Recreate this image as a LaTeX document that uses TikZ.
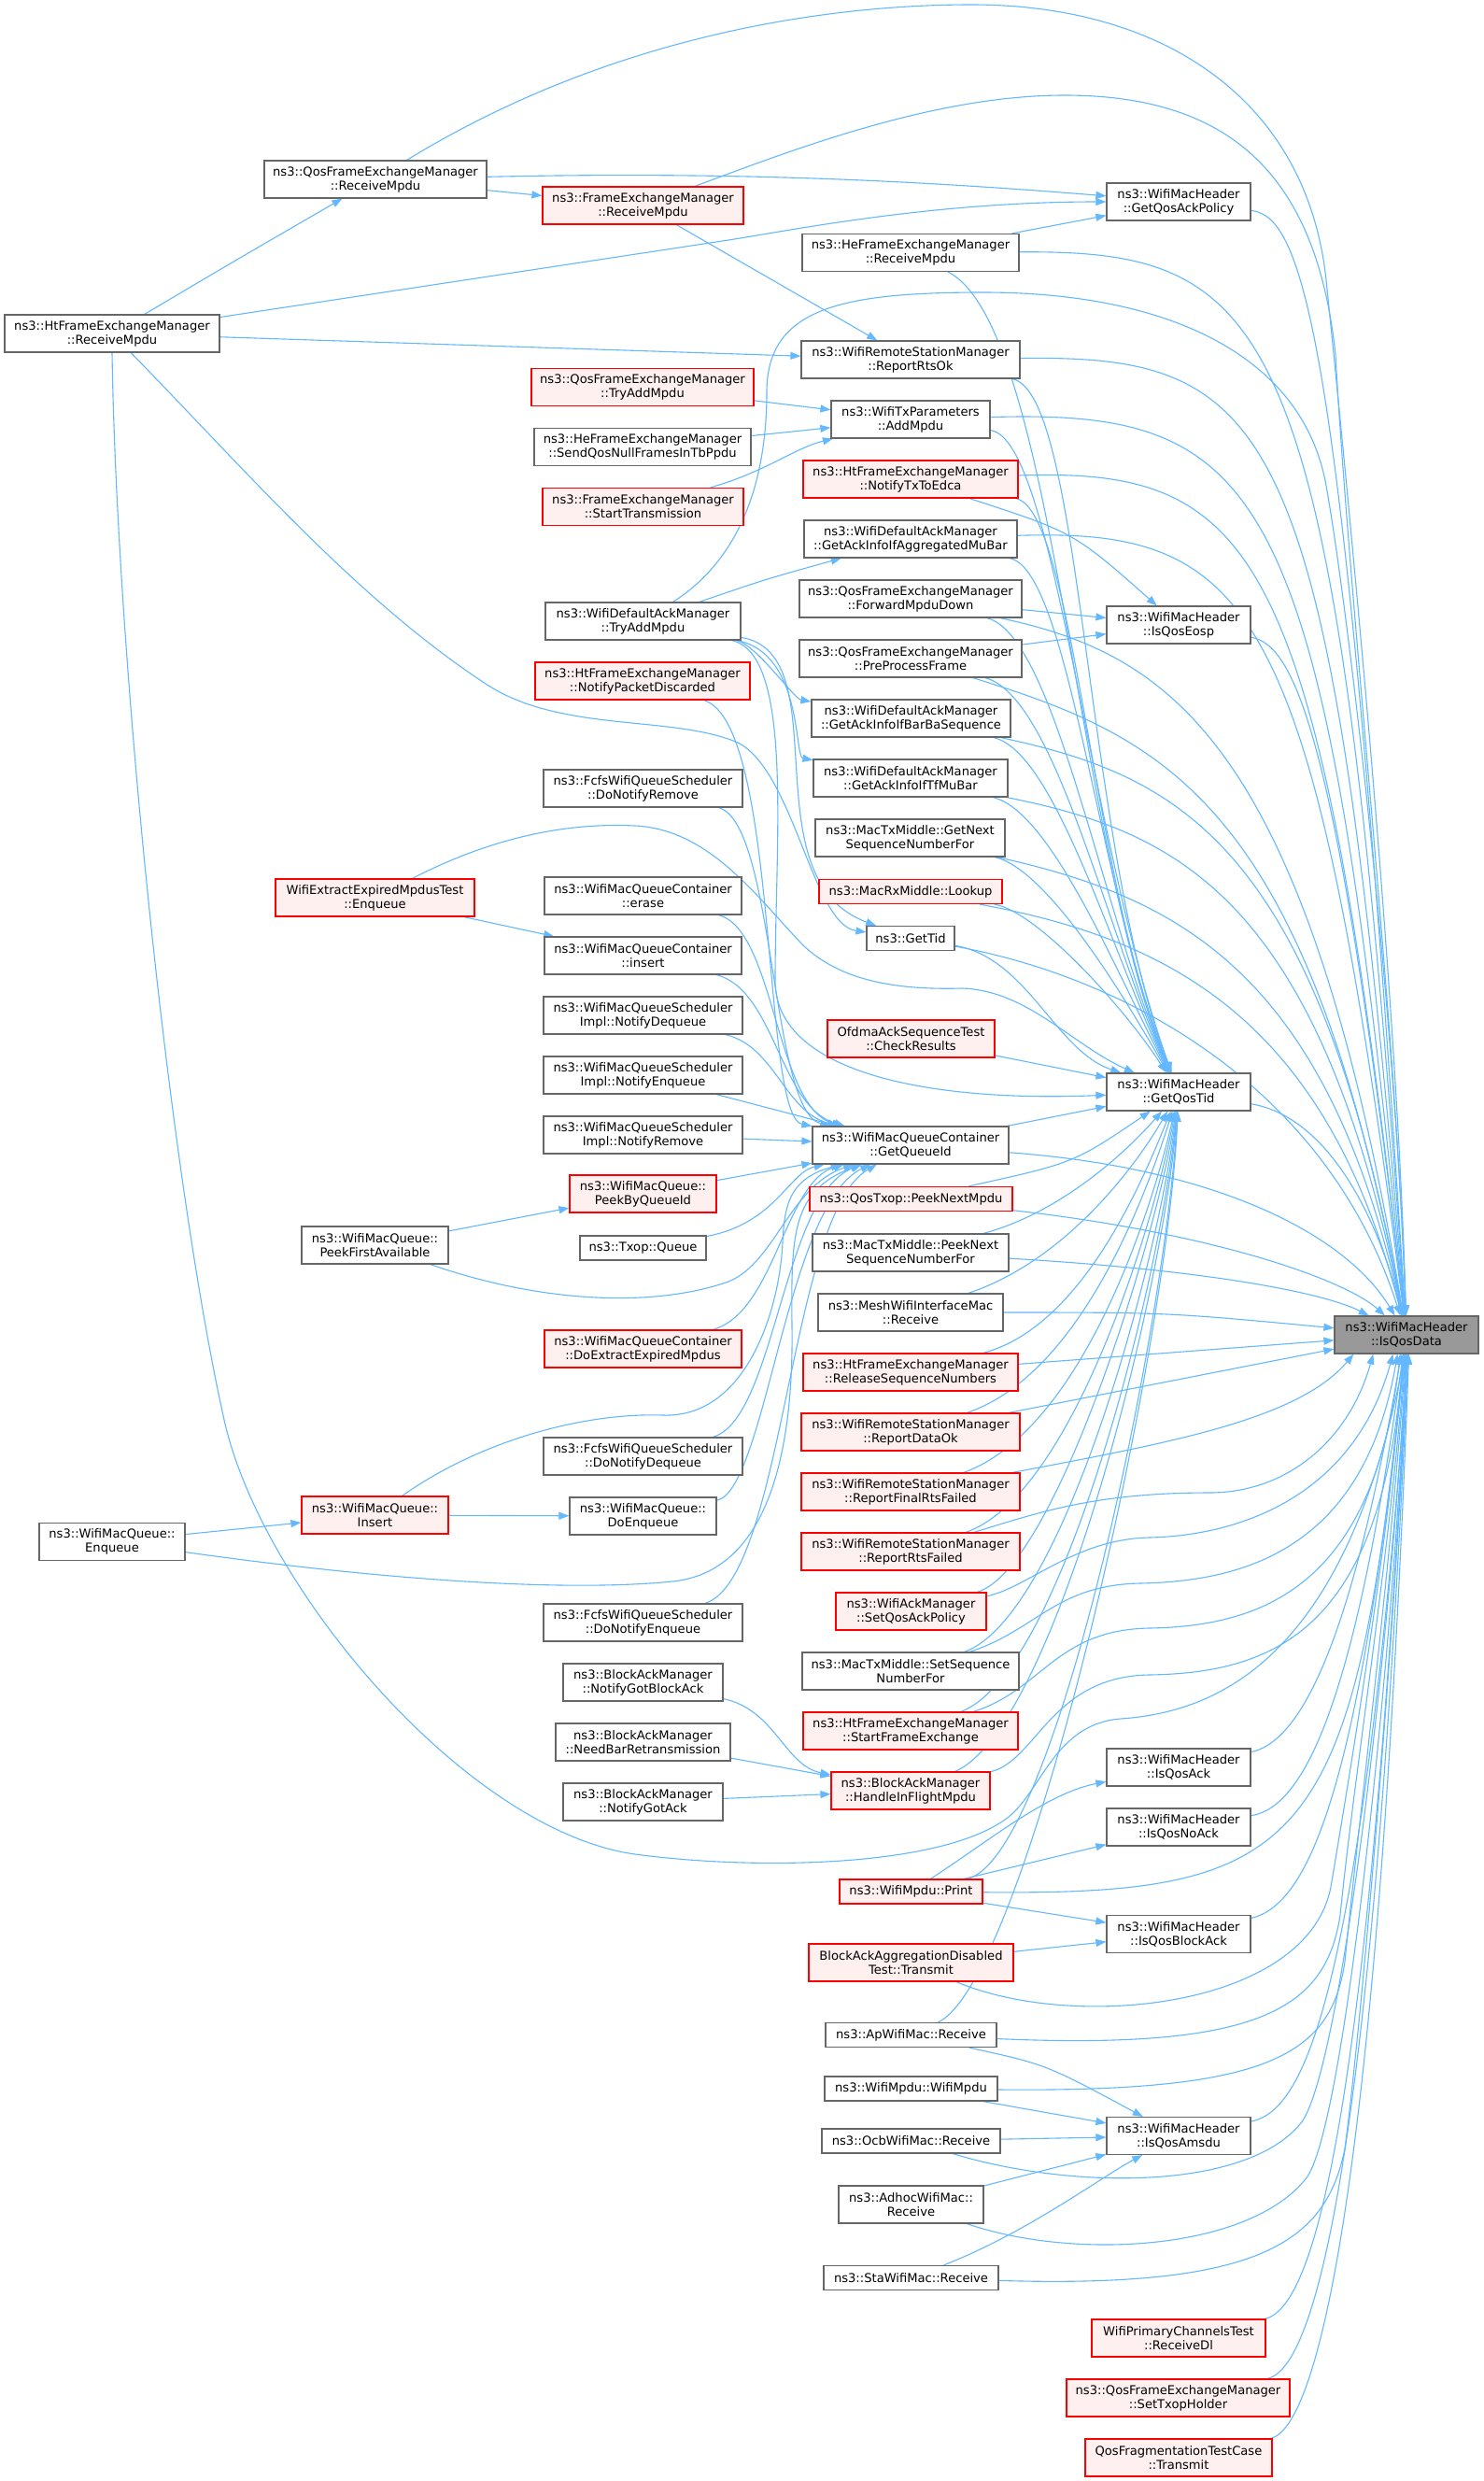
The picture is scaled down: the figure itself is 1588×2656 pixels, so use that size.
\documentclass[tikz,border=0pt]{standalone}
\usepackage{fontspec}
\setmainfont{DejaVu Sans}
\usetikzlibrary{arrows.meta,calc}
\pgfdeclarelayer{back}
\pgfdeclarelayer{bg}
\pgfsetlayers{back,bg,main}
\definecolor{edgeblue}{HTML}{63B8FF}
\definecolor{boxgray}{HTML}{666666}
\definecolor{boxred}{HTML}{FF0000}
\definecolor{redfill}{HTML}{FFF0F0}
\definecolor{rootgray}{HTML}{999999}
\newcommand\nodefont{\fontsize{13.1pt}{14.8pt}\selectfont}
\tikzset{
  nd/.style={draw=boxgray, fill=white, line width=1.2pt, inner sep=0pt, align=center, font=\nodefont, minimum height=40pt},
  rd/.style={nd, draw=boxred, fill=redfill},
  one/.style={minimum height=26pt},
  cn/.style={draw=edgeblue, line width=1.1pt, -{Triangle[length=11pt,width=8pt]}}
}
\begin{document}
\begin{tikzpicture}[x=1pt,y=-1pt]
\begin{pgfonlayer}{back}
\fill[white] (0,0) rectangle (1588,2656);
\end{pgfonlayer}
\useasboundingbox (0,0) rectangle (1588,2656);
% ---------------- nodes ----------------
\node[nd, minimum width=230pt] (htrecv) at (120,357) {ns3::HtFrameExchangeManager\\::ReceiveMpdu};
\node[nd, minimum width=156pt] (wmqenq) at (120,1650.5) {ns3::WifiMacQueue::\\Enqueue};
\node[nd, minimum width=238pt] (qosrecv) at (402,192) {ns3::QosFrameExchangeManager\\::ReceiveMpdu};
\node[rd, minimum width=213pt] (testenq) at (401.5,961) {WifiExtractExpiredMpdusTest\\::Enqueue};
\node[nd, minimum width=157pt] (peekfirst) at (401.5,1333) {ns3::WifiMacQueue::\\PeekFirstAvailable};
\node[rd, minimum width=157pt] (insertq) at (401.5,1622) {ns3::WifiMacQueue::\\Insert};
\node[rd, minimum width=215pt] (femrecv) at (688.5,220) {ns3::FrameExchangeManager\\::ReceiveMpdu};
\node[rd, minimum width=238pt] (qostry) at (688,414.5) {ns3::QosFrameExchangeManager\\::TryAddMpdu};
\node[nd, minimum width=232pt] (hesend) at (688,478.5) {ns3::HeFrameExchangeManager\\::SendQosNullFramesInTbPpdu};
\node[rd, minimum width=215pt] (starttx) at (688.5,542.5) {ns3::FrameExchangeManager\\::StartTransmission};
\node[nd, minimum width=209pt] (datry) at (688.5,665) {ns3::WifiDefaultAckManager\\::TryAddMpdu};
\node[rd, minimum width=230pt] (pktdisc) at (688,729) {ns3::HtFrameExchangeManager\\::NotifyPacketDiscarded};
\node[nd, minimum width=213pt] (donotrem) at (688.5,844) {ns3::FcfsWifiQueueScheduler\\::DoNotifyRemove};
\node[nd, minimum width=211pt] (erase) at (688.5,959) {ns3::WifiMacQueueContainer\\::erase};
\node[nd, minimum width=211pt] (insertc) at (688.5,1023) {ns3::WifiMacQueueContainer\\::insert};
\node[nd, minimum width=213pt] (notdeq) at (688.5,1087) {ns3::WifiMacQueueScheduler\\Impl::NotifyDequeue};
\node[nd, minimum width=213pt] (notenq) at (688.5,1151) {ns3::WifiMacQueueScheduler\\Impl::NotifyEnqueue};
\node[nd, minimum width=213pt] (notrem) at (688.5,1215) {ns3::WifiMacQueueScheduler\\Impl::NotifyRemove};
\node[rd, minimum width=157pt] (peekq) at (688.5,1278) {ns3::WifiMacQueue::\\PeekByQueueId};
\node[nd, one, minimum width=135pt] (txopq) at (688.5,1336) {ns3::Txop::Queue};
\node[rd, minimum width=211pt] (doext) at (688.5,1444) {ns3::WifiMacQueueContainer\\::DoExtractExpiredMpdus};
\node[nd, minimum width=213pt] (dondeq) at (688.5,1559) {ns3::FcfsWifiQueueScheduler\\::DoNotifyDequeue};
\node[nd, minimum width=157pt] (doenq) at (688.5,1623) {ns3::WifiMacQueue::\\DoEnqueue};
\node[nd, minimum width=213pt] (donenq) at (688.5,1737) {ns3::FcfsWifiQueueScheduler\\::DoNotifyEnqueue};
\node[nd, minimum width=171pt] (gotba) at (688.5,1801) {ns3::BlockAckManager\\::NotifyGotBlockAck};
\node[nd, minimum width=187pt] (needbar) at (688.5,1865) {ns3::BlockAckManager\\::NeedBarRetransmission};
\node[nd, minimum width=171pt] (gotack) at (688.5,1929) {ns3::BlockAckManager\\::NotifyGotAck};
\node[nd, minimum width=232pt] (herecv) at (975,270.5) {ns3::HeFrameExchangeManager\\::ReceiveMpdu};
\node[nd, minimum width=234pt] (rtsok) at (975,385) {ns3::WifiRemoteStationManager\\::ReportRtsOk};
\node[nd, minimum width=170pt] (addmpdu) at (975,449) {ns3::WifiTxParameters\\::AddMpdu};
\node[rd, minimum width=230pt] (txedca) at (975,513) {ns3::HtFrameExchangeManager\\::NotifyTxToEdca};
\node[nd, minimum width=228pt] (aggmubar) at (975,577) {ns3::WifiDefaultAckManager\\::GetAckInfoIfAggregatedMuBar};
\node[nd, minimum width=238pt] (fwddown) at (975,641) {ns3::QosFrameExchangeManager\\::ForwardMpduDown};
\node[nd, minimum width=238pt] (preproc) at (975,705) {ns3::QosFrameExchangeManager\\::PreProcessFrame};
\node[nd, minimum width=213pt] (barba) at (975.5,769) {ns3::WifiDefaultAckManager\\::GetAckInfoIfBarBaSequence};
\node[nd, minimum width=208pt] (tfmubar) at (975,833) {ns3::WifiDefaultAckManager\\::GetAckInfoIfTfMuBar};
\node[nd, minimum width=203pt] (nextseq) at (974.5,897) {ns3::MacTxMiddle::GetNext\\SequenceNumberFor};
\node[rd, one, minimum width=196pt] (lookup) at (975,954.5) {ns3::MacRxMiddle::Lookup};
\node[nd, one, minimum width=94pt] (gettid) at (975,1004.5) {ns3::GetTid};
\node[rd, minimum width=179pt] (checkres) at (975.5,1112) {OfdmaAckSequenceTest\\::CheckResults};
\node[nd, minimum width=210pt] (getqid) at (975,1226) {ns3::WifiMacQueueContainer\\::GetQueueId};
\node[rd, one, minimum width=217pt] (peeknext) at (975.5,1283.5) {ns3::QosTxop::PeekNextMpdu};
\node[nd, minimum width=210pt] (peekseq) at (975,1341) {ns3::MacTxMiddle::PeekNext\\SequenceNumberFor};
\node[nd, minimum width=198pt] (mesh) at (975,1405) {ns3::MeshWifiInterfaceMac\\::Receive};
\node[rd, minimum width=230pt] (relseq) at (975,1469) {ns3::HtFrameExchangeManager\\::ReleaseSequenceNumbers};
\node[rd, minimum width=234pt] (dataok) at (975,1533) {ns3::WifiRemoteStationManager\\::ReportDataOk};
\node[rd, minimum width=234pt] (finalrts) at (975,1597) {ns3::WifiRemoteStationManager\\::ReportFinalRtsFailed};
\node[rd, minimum width=234pt] (rtsfail) at (975,1661) {ns3::WifiRemoteStationManager\\::ReportRtsFailed};
\node[rd, minimum width=161pt] (setqosack) at (975.5,1725) {ns3::WifiAckManager\\::SetQosAckPolicy};
\node[nd, minimum width=232pt] (setseq) at (975,1789) {ns3::MacTxMiddle::SetSequence\\NumberFor};
\node[rd, minimum width=230pt] (startfe) at (975,1853) {ns3::HtFrameExchangeManager\\::StartFrameExchange};
\node[rd, minimum width=170pt] (inflight) at (975,1917) {ns3::BlockAckManager\\::HandleInFlightMpdu};
\node[rd, one, minimum width=153pt] (print) at (975.5,2025) {ns3::WifiMpdu::Print};
\node[rd, minimum width=219pt] (badisabled) at (975.5,2101) {BlockAckAggregationDisabled\\Test::Transmit};
\node[nd, one, minimum width=183pt] (apmac) at (975.5,2178.5) {ns3::ApWifiMac::Receive};
\node[nd, one, minimum width=185pt] (wifimpdu) at (975.5,2236) {ns3::WifiMpdu::WifiMpdu};
\node[nd, one, minimum width=191pt] (ocb) at (975.5,2292) {ns3::OcbWifiMac::Receive};
\node[nd, minimum width=155pt] (adhoc) at (975.5,2360) {ns3::AdhocWifiMac::\\Receive};
\node[nd, one, minimum width=187pt] (sta) at (975.5,2438.5) {ns3::StaWifiMac::Receive};
\node[nd, minimum width=154pt] (ackpol) at (1262,216) {ns3::WifiMacHeader\\::GetQosAckPolicy};
\node[nd, minimum width=154pt] (eosp) at (1262,669) {ns3::WifiMacHeader\\::IsQosEosp};
\node[nd, minimum width=154pt] (qostid) at (1262,1169) {ns3::WifiMacHeader\\::GetQosTid};
\node[nd, minimum width=154pt] (qosack) at (1262,1892) {ns3::WifiMacHeader\\::IsQosAck};
\node[nd, minimum width=154pt] (qosnoack) at (1262,1956) {ns3::WifiMacHeader\\::IsQosNoAck};
\node[nd, minimum width=154pt] (qosblockack) at (1262,2070.5) {ns3::WifiMacHeader\\::IsQosBlockAck};
\node[nd, minimum width=154pt] (amsdu) at (1262,2286.5) {ns3::WifiMacHeader\\::IsQosAmsdu};
\node[rd, minimum width=186pt] (recvdl) at (1262,2503) {WifiPrimaryChannelsTest\\::ReceiveDl};
\node[rd, minimum width=239pt] (settxop) at (1261.5,2567) {ns3::QosFrameExchangeManager\\::SetTxopHolder};
\node[rd, minimum width=200pt] (fragtx) at (1262,2631) {QosFragmentationTestCase\\::Transmit};
\node[nd, fill=rootgray, minimum width=154pt] (root) at (1506,1429) {ns3::WifiMacHeader\\::IsQosData};
% ---------------- connectors ----------------
\begin{pgfonlayer}{bg}
% top area
\draw[cn] (htrecv) .. controls (250,280) .. (qosrecv);
\draw[cn] (qosrecv) -- (femrecv);
\draw[cn] (qosrecv) .. controls (800,183) and (1000,195) .. (ackpol);
\draw[cn] (qosrecv) .. controls (650,40) and (880,5) .. (1040,5) .. controls (1250,5) and (1400,110) .. (1420,300) .. controls (1455,640) and (1497,1100) .. (root);
\draw[cn] (femrecv) .. controls (850,160) and (1000,102) .. (1140,102) .. controls (1320,102) and (1410,190) .. (1430,380) .. controls (1445,650) and (1495,1100) .. (root);
\draw[cn] (femrecv) -- (rtsok);
\draw[cn] (htrecv) -- (780,257) .. controls (850,246) and (1000,216) .. (ackpol);
\draw[cn] (htrecv) -- (rtsok);
\draw[cn] (htrecv) .. controls (260,500) and (380,640) .. (520,732) .. controls (600,785) and (720,765) .. (790,795) .. controls (850,825) and (870,990) .. (gettid);
\draw[cn] (htrecv.south) .. controls (125,700) and (180,1250) .. (240,1520) .. controls (280,1700) and (500,1960) .. (680,1985) .. controls (806,2002) and (1010,2000) .. (1080,1945) .. controls (1115,1917) and (1130,1845) .. (1200,1840) .. controls (1300,1833) and (1440,1780) .. (root.-95);
% AddMpdu callers
\draw[cn] (qostry) -- (addmpdu);
\draw[cn] (hesend) -- (addmpdu);
\draw[cn] (starttx) .. controls (820,505) and (850,480) .. (addmpdu);
% middle column, upper part
\draw[cn] (herecv) -- (ackpol);
\draw[cn] (herecv) .. controls (1130,350) and (1150,900) .. (qostid);
\draw[cn] (herecv) .. controls (1370,268) and (1430,340) .. (root);
\draw[cn] (rtsok) .. controls (1160,420) and (1160,900) .. (qostid);
\draw[cn] (rtsok) .. controls (1370,380) and (1425,450) .. (root);
\draw[cn] (addmpdu) .. controls (1130,470) and (1165,900) .. (qostid);
\draw[cn] (addmpdu) .. controls (1360,438) and (1418,520) .. (root);
\draw[cn] (txedca) .. controls (1150,570) .. (eosp);
\draw[cn] (txedca) .. controls (1150,545) and (1170,950) .. (qostid);
\draw[cn] (txedca) .. controls (1350,500) and (1412,590) .. (root);
\draw[cn] (aggmubar) .. controls (1145,610) and (1175,950) .. (qostid);
\draw[cn] (aggmubar) .. controls (1345,565) and (1406,650) .. (root);
\draw[cn] (fwddown) -- (eosp);
\draw[cn] (fwddown) .. controls (1130,680) and (1180,980) .. (qostid);
\draw[cn] (fwddown) .. controls (1250,700) and (1400,790) .. (root);
\draw[cn] (preproc) -- (eosp);
\draw[cn] (preproc) .. controls (1130,745) and (1185,1000) .. (qostid);
\draw[cn] (preproc) .. controls (1250,790) and (1400,860) .. (root);
\draw[cn] (eosp) .. controls (1385,690) and (1432,780) .. (root);
\draw[cn] (ackpol) .. controls (1395,232) and (1438,350) .. (root);
\draw[cn] (barba) .. controls (1130,805) and (1190,1020) .. (qostid);
\draw[cn] (barba) .. controls (1260,830) and (1410,900) .. (root);
\draw[cn] (tfmubar) .. controls (1125,868) and (1195,1040) .. (qostid);
\draw[cn] (tfmubar) .. controls (1260,890) and (1412,960) .. (root);
\draw[cn] (nextseq) .. controls (1120,930) and (1200,1060) .. (qostid);
\draw[cn] (nextseq) .. controls (1260,960) and (1420,1040) .. (root);
\draw[cn] (lookup) .. controls (1110,975) and (1205,1080) .. (qostid);
\draw[cn] (lookup) .. controls (1250,1005) and (1420,1090) .. (root);
\draw[cn] (gettid) .. controls (1100,1025) and (1130,1125) .. (qostid);
\draw[cn] (gettid) .. controls (1200,1045) and (1420,1160) .. (root);
\draw[cn] (checkres) -- (qostid);
% test enqueue
\draw[cn] (testenq) -- (insertc);
\draw[cn] (testenq) .. controls (520,900) and (600,880) .. (680,884) .. controls (760,888) and (810,960) .. (860,1012) .. controls (900,1050) and (960,1060) .. (1030,1058) .. controls (1100,1060) and (1150,1120) .. (qostid);
% WifiDefaultAckManager::TryAddMpdu
\draw[cn] (datry) .. controls (820,620) .. (aggmubar);
\draw[cn] (datry) .. controls (810,690) and (850,748) .. (barba);
\draw[cn] (datry) .. controls (860,700) and (850,810) .. (tfmubar);
\draw[cn] (datry) .. controls (900,700) and (800,940) .. (gettid);
\draw[cn] (datry) .. controls (850,700) and (830,900) .. (830,1050) .. controls (830,1150) and (1000,1180) .. (qostid);
\draw[cn] (datry) .. controls (790,600) and (821,520) .. (821,420) .. controls (821,330) and (900,313) .. (1053,313) .. controls (1250,313) and (1395,380) .. (1420,520) .. controls (1445,660) and (1495,1100) .. (root);
% callers of GetQueueId
\draw[cn] (pktdisc) .. controls (835,775) and (815,1195) .. (getqid);
\draw[cn] (donotrem) .. controls (830,880) and (825,1190) .. (getqid);
\draw[cn] (erase) .. controls (830,995) and (830,1185) .. (getqid);
\draw[cn] (insertc) .. controls (830,1060) and (835,1185) .. (getqid);
\draw[cn] (notdeq) .. controls (830,1120) and (840,1190) .. (getqid);
\draw[cn] (notenq) -- (getqid);
\draw[cn] (notrem) -- (getqid);
\draw[cn] (peekq) -- (getqid);
\draw[cn] (peekfirst) -- (peekq);
\draw[cn] (txopq) .. controls (830,1310) and (845,1255) .. (getqid);
\draw[cn] (peekfirst) .. controls (580,1395) and (700,1400) .. (780,1372) .. controls (830,1352) and (845,1270) .. (getqid);
\draw[cn] (doext) .. controls (830,1405) and (840,1265) .. (getqid);
\draw[cn] (insertq) .. controls (510,1545) and (620,1512) .. (710,1515) .. controls (800,1518) and (835,1400) .. (838,1330) .. controls (840,1290) and (845,1262) .. (getqid);
\draw[cn] (dondeq) .. controls (830,1520) and (838,1280) .. (getqid);
\draw[cn] (doenq) .. controls (820,1595) and (842,1290) .. (getqid);
\draw[cn] (donenq) .. controls (840,1690) and (845,1300) .. (getqid);
\draw[cn] (wmqenq) .. controls (400,1690) and (600,1705) .. (720,1693) .. controls (820,1683) and (850,1560) .. (848,1420) .. controls (847,1320) and (848,1275) .. (getqid);
\draw[cn] (wmqenq) -- (insertq);
\draw[cn] (insertq) -- (doenq);
% block ack manager
\draw[cn] (gotba) .. controls (830,1830) and (840,1890) .. (inflight);
\draw[cn] (needbar) -- (inflight);
\draw[cn] (gotack) -- (inflight);
% GetQueueId and lower middle column
\draw[cn] (getqid) -- (qostid);
\draw[cn] (getqid) .. controls (1300,1250) and (1440,1320) .. (root);
\draw[cn] (peeknext) .. controls (1150,1245) .. (qostid);
\draw[cn] (peeknext) .. controls (1300,1320) and (1440,1370) .. (root);
\draw[cn] (peekseq) .. controls (1130,1300) and (1200,1240) .. (qostid);
\draw[cn] (peekseq) .. controls (1300,1360) and (1420,1385) .. (root);
\draw[cn] (mesh) .. controls (1140,1350) and (1215,1250) .. (qostid);
\draw[cn] (mesh) .. controls (1250,1405) .. (root);
\draw[cn] (relseq) .. controls (1160,1420) and (1225,1260) .. (qostid);
\draw[cn] (relseq) -- (root);
\draw[cn] (dataok) .. controls (1160,1470) and (1230,1270) .. (qostid);
\draw[cn] (dataok) -- (root);
\draw[cn] (finalrts) .. controls (1160,1530) and (1235,1290) .. (qostid);
\draw[cn] (finalrts) .. controls (1250,1545) and (1390,1520) .. (root.-160);
\draw[cn] (rtsfail) .. controls (1150,1600) and (1238,1300) .. (qostid);
\draw[cn] (rtsfail) .. controls (1110,1620) and (1170,1598) .. (1295,1598) .. controls (1380,1598) and (1445,1540) .. (root.-150);
\draw[cn] (setqosack) .. controls (1130,1680) and (1240,1320) .. (qostid);
\draw[cn] (setqosack) .. controls (1100,1700) and (1150,1648) .. (1230,1646) .. controls (1330,1644) and (1450,1600) .. (root.-125);
\draw[cn] (setseq) .. controls (1140,1730) and (1242,1340) .. (qostid);
\draw[cn] (setseq) .. controls (1110,1745) and (1130,1697) .. (1220,1695) .. controls (1330,1693) and (1460,1660) .. (root.-115);
\draw[cn] (startfe) .. controls (1140,1790) and (1244,1360) .. (qostid);
\draw[cn] (startfe) .. controls (1115,1810) and (1130,1745) .. (1230,1743) .. controls (1350,1741) and (1470,1700) .. (root.-108);
\draw[cn] (inflight) .. controls (1130,1850) and (1246,1380) .. (qostid);
\draw[cn] (inflight) .. controls (1110,1885) and (1125,1795) .. (1230,1793) .. controls (1370,1791) and (1480,1740) .. (root.-100);
% WifiMpdu::Print and below
\draw[cn] (print) .. controls (1060,1970) and (1120,1920) .. (qosack);
\draw[cn] (print) -- (qosnoack);
\draw[cn] (print) -- (qosblockack);
\draw[cn] (print) .. controls (1130,1990) and (1248,1420) .. (qostid);
\draw[cn] (print) .. controls (1400,2029) and (1450,1980) .. (root.-97);
\draw[cn] (badisabled) -- (qosblockack);
\draw[cn] (badisabled) .. controls (1150,2175) and (1400,2150) .. (1425,2020) .. controls (1440,1930) and (1488,1650) .. (root.-100);
\draw[cn] (apmac) .. controls (1120,2210) .. (amsdu);
\draw[cn] (apmac) .. controls (1100,2120) and (1250,1450) .. (qostid);
\draw[cn] (apmac) .. controls (1350,2195) and (1420,2150) .. (1435,2050) .. controls (1450,1900) and (1490,1650) .. (root.-95);
\draw[cn] (wifimpdu) -- (amsdu);
\draw[cn] (wifimpdu) .. controls (1360,2240) and (1425,2200) .. (1440,2100) .. controls (1455,1950) and (1492,1650) .. (root.-93);
\draw[cn] (ocb) -- (amsdu);
\draw[cn] (ocb) .. controls (1150,2345) and (1340,2345) .. (1395,2270) .. controls (1440,2200) and (1494,1700) .. (root.-92);
\draw[cn] (adhoc) -- (amsdu);
\draw[cn] (adhoc) .. controls (1150,2420) and (1340,2410) .. (1400,2330) .. controls (1445,2260) and (1496,1700) .. (root.-90);
\draw[cn] (sta) .. controls (1100,2390) and (1180,2330) .. (amsdu);
\draw[cn] (sta) .. controls (1350,2450) and (1420,2400) .. (1440,2300) .. controls (1460,2150) and (1497,1700) .. (root.-88);
% right column to root
\draw[cn] (qostid) .. controls (1420,1195) and (1475,1300) .. (root);
\draw[cn] (qosack) .. controls (1390,1865) and (1445,1770) .. (root.-105);
\draw[cn] (qosnoack) .. controls (1395,1935) and (1450,1830) .. (root.-100);
\draw[cn] (qosblockack) .. controls (1400,2040) and (1455,1920) .. (root.-95);
\draw[cn] (amsdu) .. controls (1395,2260) and (1455,2150) .. (root.-85);
\draw[cn] (recvdl) .. controls (1410,2470) and (1465,2250) .. (root.-87);
\draw[cn] (settxop) .. controls (1410,2535) and (1470,2300) .. (root.-85);
\draw[cn] (fragtx) .. controls (1410,2600) and (1475,2350) .. (root.-83);
\end{pgfonlayer}
\end{tikzpicture}
\end{document}
